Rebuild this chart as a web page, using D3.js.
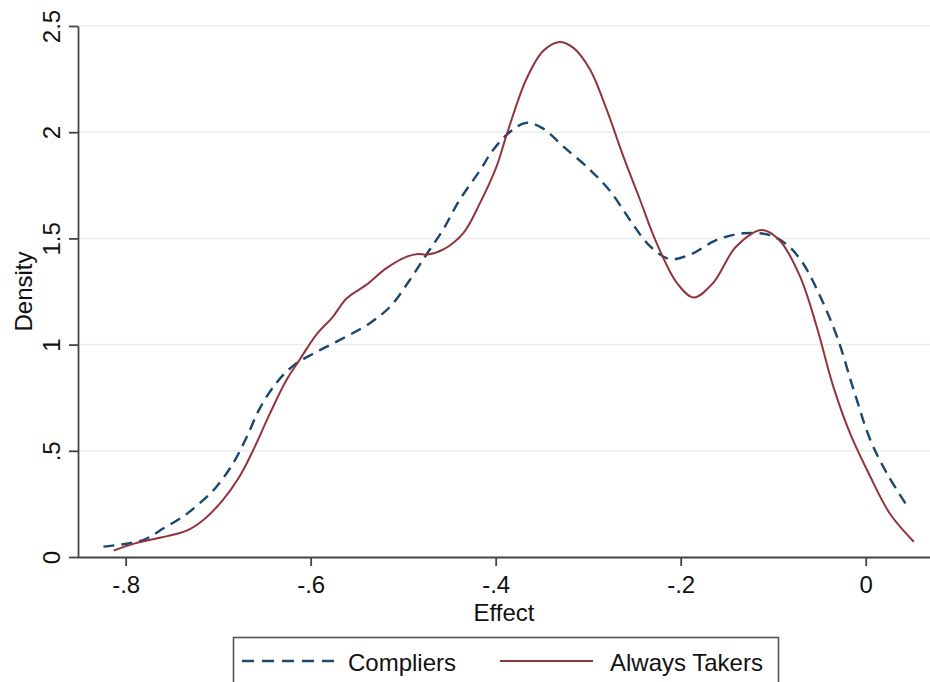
<!DOCTYPE html>
<html>
<head>
<meta charset="utf-8">
<script src="https://cdn.jsdelivr.net/npm/d3@7"></script>
<style>
  html, body { margin: 0; padding: 0; background: #fff; }
  svg text { font-family: "Liberation Sans", Arial, Helvetica, sans-serif; fill: #111; }
</style>
</head>
<body>
<svg id="chart" width="930" height="682"></svg>
<script>
/* Kernel densities of the effect: compliers vs always takers */

var yTicks = [0, 0.5, 1, 1.5, 2, 2.5];
var yTickLabels = ['0', '.5', '1', '1.5', '2', '2.5'];
var xTicks = [-0.8, -0.6, -0.4, -0.2, 0];
var xTickLabels = ['-.8', '-.6', '-.4', '-.2', '0'];

var seriesNames = ['Compliers', 'Always Takers'];

var compliersEffect = [-0.824, -0.781, -0.759, -0.738, -0.720, -0.702, -0.684, -0.669, -0.655, -0.637,
  -0.619, -0.597, -0.572, -0.536, -0.514, -0.493, -0.475, -0.457, -0.439, -0.417,
  -0.403, -0.385, -0.367, -0.349, -0.327, -0.298, -0.276, -0.255, -0.233, -0.212,
  -0.190, -0.161, -0.132, -0.104, -0.085, -0.068, -0.049, -0.031, -0.013, 0.005,
  0.023, 0.044];
var compliersDensity = [0.049, 0.080, 0.135, 0.190, 0.253, 0.330, 0.440, 0.566, 0.700, 0.820,
  0.900, 0.958, 1.014, 1.101, 1.179, 1.303, 1.423, 1.540, 1.681, 1.820,
  1.915, 2.000, 2.044, 2.018, 1.933, 1.823, 1.721, 1.588, 1.462, 1.403,
  1.423, 1.493, 1.524, 1.516, 1.470, 1.384, 1.225, 1.037, 0.787, 0.551,
  0.393, 0.245];

var takersEffect = [-0.813, -0.790, -0.734, -0.716, -0.695, -0.677, -0.662, -0.644, -0.626, -0.612,
  -0.594, -0.576, -0.561, -0.540, -0.518, -0.496, -0.484, -0.475, -0.457, -0.435,
  -0.417, -0.399, -0.388, -0.367, -0.349, -0.332, -0.316, -0.298, -0.280, -0.262,
  -0.244, -0.226, -0.204, -0.186, -0.165, -0.140, -0.112, -0.093, -0.071, -0.053,
  -0.035, -0.017, 0.005, 0.026, 0.052];
var takersDensity = [0.030, 0.064, 0.124, 0.174, 0.268, 0.378, 0.504, 0.676, 0.834, 0.928,
  1.046, 1.131, 1.218, 1.281, 1.360, 1.414, 1.427, 1.423, 1.447, 1.525,
  1.666, 1.839, 1.990, 2.248, 2.381, 2.424, 2.397, 2.295, 2.106, 1.886,
  1.682, 1.478, 1.290, 1.222, 1.290, 1.462, 1.540, 1.490, 1.321, 1.085,
  0.802, 0.583, 0.378, 0.205, 0.072];

(function () {
  'use strict';
  var svg = d3.select('#chart');
  var W = 930, H = 682;
  var m = { top: 26, right: 0, bottom: 125, left: 78 };
  var innerW = W - m.left - m.right, innerH = H - m.top - m.bottom;

  var navy = '#1a476f', maroon = '#90353b', axisCol = '#444';

  var x = d3.scaleLinear().domain([-0.8515, 0.0695]).range([0, innerW]);
  var y = d3.scaleLinear().domain([0, 2.5]).range([innerH, 0]);

  svg.append('rect').attr('width', W).attr('height', H).attr('fill', '#fff');
  var g = svg.append('g').attr('transform', 'translate(' + m.left + ',' + m.top + ')');

  /* gridlines */
  g.append('g').selectAll('line').data(yTicks.slice(1)).enter().append('line')
    .attr('x1', 0).attr('x2', innerW)
    .attr('y1', function (d) { return y(d); }).attr('y2', function (d) { return y(d); })
    .attr('stroke', '#ececec').attr('stroke-width', 1.5);

  /* curves */
  var line = d3.line()
    .x(function (d) { return x(d[0]); })
    .y(function (d) { return y(d[1]); })
    .curve(d3.curveCatmullRom.alpha(0.5));

  var compliers = d3.zip(compliersEffect, compliersDensity);
  var takers = d3.zip(takersEffect, takersDensity);

  g.append('path').datum(compliers).attr('d', line)
    .attr('fill', 'none').attr('stroke', navy).attr('stroke-width', 2.4)
    .attr('stroke-dasharray', '11,7');
  g.append('path').datum(takers).attr('d', line)
    .attr('fill', 'none').attr('stroke', maroon).attr('stroke-width', 2);

  /* axes */
  var yAxis = g.append('g')
    .call(d3.axisLeft(y).tickValues(yTicks).tickSize(9).tickSizeOuter(0)
      .tickFormat(function (d, i) { return yTickLabels[i]; }));
  yAxis.selectAll('path, line').attr('stroke', axisCol).attr('stroke-width', 1.8);
  yAxis.selectAll('text')
    .attr('transform', 'rotate(-90)')
    .attr('x', 0).attr('y', -18).attr('dy', null)
    .attr('text-anchor', 'middle')
    .style('font-size', '24px').style('fill', '#111');

  var xAxis = g.append('g').attr('transform', 'translate(0,' + innerH + ')')
    .call(d3.axisBottom(x).tickValues(xTicks).tickSize(9).tickSizeOuter(0)
      .tickFormat(function (d, i) { return xTickLabels[i]; }));
  xAxis.selectAll('path, line').attr('stroke', axisCol).attr('stroke-width', 1.8);
  xAxis.selectAll('text')
    .attr('y', 36).attr('dy', null)
    .style('font-size', '24px').style('fill', '#111');
  xAxis.select('.domain').attr('d', 'M0,0.5H' + innerW);

  /* axis titles */
  svg.append('text')
    .attr('transform', 'translate(32,' + (m.top + innerH / 2) + ') rotate(-90)')
    .attr('text-anchor', 'middle').style('font-size', '24px')
    .text('Density');
  svg.append('text')
    .attr('x', m.left + innerW / 2).attr('y', 621)
    .attr('text-anchor', 'middle').style('font-size', '24px')
    .text('Effect');

  /* legend */
  var lg = svg.append('g');
  lg.append('rect').attr('x', 233.5).attr('y', 637.5).attr('width', 545).attr('height', 60)
    .attr('fill', '#fff').attr('stroke', '#555').attr('stroke-width', 1.6);
  lg.append('line').attr('x1', 242).attr('x2', 337).attr('y1', 661).attr('y2', 661)
    .attr('stroke', navy).attr('stroke-width', 2.4).attr('stroke-dasharray', '12,8');
  lg.append('text').attr('x', 348).attr('y', 671).style('font-size', '24px').text(seriesNames[0]);
  lg.append('line').attr('x1', 500).attr('x2', 593).attr('y1', 661).attr('y2', 661)
    .attr('stroke', maroon).attr('stroke-width', 2);
  lg.append('text').attr('x', 610).attr('y', 671).style('font-size', '24px').text(seriesNames[1]);
})();
</script>
</body>
</html>
